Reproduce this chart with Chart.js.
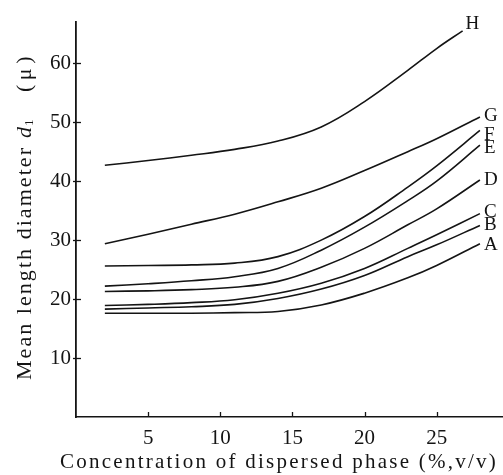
<!DOCTYPE html>
<html>
<head>
<meta charset="utf-8">
<script src="https://cdn.jsdelivr.net/npm/chart.js@4/dist/chart.umd.min.js"></script>
<style>
  html, body { margin: 0; padding: 0; background: #fff; }
  #wrap { width: 503px; height: 475px; }
</style>
</head>
<body>
<div id="wrap"><canvas id="chart"></canvas></div>
<script>
// concentration of dispersed phase (%, v/v)
const concX = [2, 5, 8, 11, 14, 17, 20, 23, 25, 28];
const concXH = [2, 5, 8, 11, 14, 17, 20, 23, 25, 26.8];

// mean length diameter d1 (micron)
const seriesA = [17.6, 17.6, 17.6, 17.7, 17.9, 19.0, 21.0, 23.6, 25.7, 29.4];
const seriesB = [18.3, 18.5, 18.7, 19.1, 20.1, 21.7, 24.0, 27.2, 29.2, 32.5];
const seriesC = [18.9, 19.1, 19.4, 19.9, 21.0, 22.7, 25.2, 28.6, 30.9, 34.5];
const seriesD = [21.3, 21.4, 21.6, 22.0, 23.0, 25.4, 28.6, 32.6, 35.3, 40.2];
const seriesE = [22.2, 22.6, 23.1, 23.8, 25.2, 28.3, 32.2, 36.7, 40.0, 46.1];
const seriesF = [25.6, 25.7, 25.8, 26.1, 27.2, 30.0, 34.0, 39.0, 42.6, 48.6];
const seriesG = [29.4, 31.0, 32.7, 34.4, 36.5, 38.8, 41.8, 45.0, 47.2, 50.9];
const seriesH = [42.7, 43.5, 44.4, 45.4, 46.8, 49.2, 53.5, 58.8, 62.5, 65.5];

const curveNames = ['A', 'B', 'C', 'D', 'E', 'F', 'G', 'H'];
const xTicks = [5, 10, 15, 20, 25];
const yTicks = [10, 20, 30, 40, 50, 60];

const xTitle = 'Concentration of dispersed phase (%,v/v)';
const yTitle = 'Mean length diameter';

const INK = '#141414';
const SERIF = '"Liberation Serif", "DejaVu Serif", serif';

function pts(xs, ys) {
  return xs.map((x, i) => ({ x: x, y: ys[i] }));
}

const allSeries = [seriesA, seriesB, seriesC, seriesD, seriesE, seriesF, seriesG, seriesH];
const datasets = allSeries.map((s, i) => ({
  label: curveNames[i],
  data: pts(i === 7 ? concXH : concX, s),
  borderColor: INK,
  borderWidth: 1.6,
  pointRadius: 0,
  fill: false,
  tension: 0.4
}));

// fit a string into a given length by spreading the letters
function fitText(ctx, text, x, y, len) {
  ctx.letterSpacing = '0px';
  const w = ctx.measureText(text).width;
  const sp = (len - w) / text.length;
  ctx.letterSpacing = sp + 'px';
  ctx.fillText(text, x, y);
  ctx.letterSpacing = '0px';
}

const decor = {
  id: 'decor',
  afterDraw(chart, args, opts) {
    const ctx = chart.ctx;
    const xs = chart.scales.x, ys = chart.scales.y;
    const area = chart.chartArea;
    ctx.save();
    ctx.strokeStyle = INK;
    ctx.lineWidth = 1.3;
    // inward tick marks
    yTicks.forEach((v) => {
      const py = Math.round(ys.getPixelForValue(v)) + 0.5;
      ctx.beginPath();
      ctx.moveTo(area.left - 3, py);
      ctx.lineTo(area.left + 5, py);
      ctx.stroke();
    });
    xTicks.forEach((v) => {
      const px = Math.round(xs.getPixelForValue(v)) + 0.5;
      ctx.beginPath();
      ctx.moveTo(px, area.bottom);
      ctx.lineTo(px, area.bottom - 5);
      ctx.stroke();
    });

    ctx.fillStyle = INK;
    // curve letters at the right ends
    ctx.font = '19px ' + SERIF;
    ctx.textAlign = 'left';
    ctx.textBaseline = 'middle';
    chart.data.datasets.forEach((ds, i) => {
      const meta = chart.getDatasetMeta(i);
      const last = meta.data[meta.data.length - 1];
      const nudge = opts.nudge[i] || [3, 0];
      ctx.fillText(ds.label, last.x + nudge[0], last.y + nudge[1]);
    });

    // x title
    ctx.font = '21px ' + SERIF;
    ctx.textBaseline = 'middle';
    fitText(ctx, xTitle, 60, 462, 438);

    // y title, rotated
    ctx.translate(25, 380);
    ctx.rotate(-Math.PI / 2);
    ctx.font = '22px ' + SERIF;
    fitText(ctx, yTitle, 0, 0, 234);
    ctx.font = 'italic 22px ' + SERIF;
    ctx.fillText('d', 242, 0);
    const dw = ctx.measureText('d').width;
    ctx.font = '13px ' + SERIF;
    ctx.fillText('1', 242 + dw + 1, 5);
    ctx.font = '22px ' + SERIF;
    fitText(ctx, '(μ)', 288, 0, 40);
    ctx.restore();
  }
};

new Chart(document.getElementById('chart'), {
  type: 'line',
  data: { datasets },
  options: {
    responsive: true,
    maintainAspectRatio: false,
    animation: false,
    layout: { padding: { top: 22, left: 0, right: 0, bottom: 0 } },
    plugins: {
      legend: { display: false },
      tooltip: { enabled: false },
      decor: {
        nudge: [[4, 1], [4, 0], [4, -2], [4, 0], [4, 3], [4, 5], [4, -1], [3, -7]]
      }
    },
    scales: {
      x: {
        type: 'linear',
        min: 0,
        max: 29.6,
        afterBuildTicks: (scale) => { scale.ticks = xTicks.map((v) => ({ value: v })); },
        afterFit: (scale) => { scale.height = 58; },
        grid: { display: false, drawTicks: false },
        border: { display: true, color: INK, width: 1.6 },
        ticks: { color: INK, padding: 9, maxRotation: 0, font: { family: SERIF, size: 21 } }
      },
      y: {
        min: 0,
        max: 67,
        afterBuildTicks: (scale) => { scale.ticks = yTicks.map((v) => ({ value: v })); },
        afterFit: (scale) => { scale.width = 76; },
        grid: { display: false, drawTicks: false },
        border: { display: true, color: INK, width: 1.8 },
        ticks: { color: INK, padding: 5, font: { family: SERIF, size: 21 } }
      }
    }
  },
  plugins: [decor]
});
</script>
</body>
</html>
